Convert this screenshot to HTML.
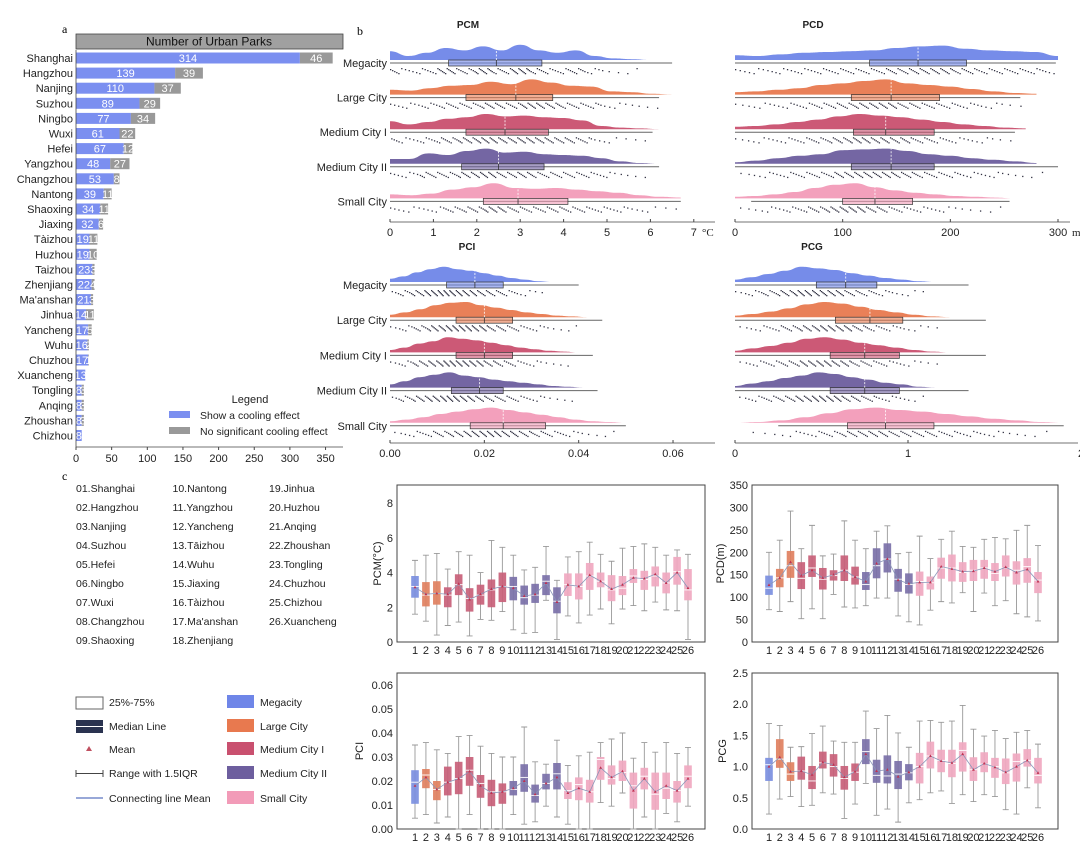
<!DOCTYPE html>
<html><head><meta charset="utf-8"><style>
body{margin:0;background:#fff;}
svg{font-family:"Liberation Sans",sans-serif;display:block;}
</style></head><body>
<svg id="fig" width="1080" height="864" viewBox="0 0 1080 864" xmlns="http://www.w3.org/2000/svg">
<g id="pa"></g>
<g id="pb"></g>
<g id="pc"></g>
</svg>
<script>
// ---------- Panel a data ----------
const cities = ["Shanghai","Hangzhou","Nanjing","Suzhou","Ningbo","Wuxi","Hefei","Yangzhou","Changzhou","Nantong","Shaoxing","Jiaxing","Tàizhou","Huzhou","Taizhou","Zhenjiang","Ma'anshan","Jinhua","Yancheng","Wuhu","Chuzhou","Xuancheng","Tongling","Anqing","Zhoushan","Chizhou"];
const coolVals = [314,139,110,89,77,61,67,48,53,39,34,32,19,19,23,22,21,14,17,16,17,13,8,8,8,8];
const noCoolVals = [46,39,37,29,34,22,12,27,8,11,11,6,11,10,3,4,3,11,5,2,1,0,3,3,3,0];
const aTicks = [0,50,100,150,200,250,300,350];

// ---------- Panel b data (relative density, box stats) ----------
const rowNames = ["Megacity","Large City","Medium City I","Medium City II","Small City"];
const pcmDens = [[0.55,0.25,0.45,0.75,0.6,0.85,0.6,0.95,0.6,0.45,0.6,0.25,0.1,0.05,0.0],
 [0.3,0.25,0.4,0.55,0.6,0.8,0.65,0.95,0.75,0.55,0.5,0.2,0.15,0.05,0.0],
 [0.5,0.3,0.45,0.65,0.75,0.95,0.8,0.85,0.75,0.7,0.55,0.2,0.1,0.05,0.0],
 [0.3,0.3,0.65,0.55,0.8,0.95,0.7,0.75,0.6,0.55,0.5,0.35,0.15,0.05,0.0],
 [0.25,0.2,0.3,0.55,0.7,0.95,0.65,0.6,0.65,0.55,0.45,0.35,0.2,0.1,0.05]];
const pcmStats = [[0,1.35,2.45,3.5,6.5],[0,1.75,2.9,3.75,6.2],[0,1.75,2.65,3.65,6.05],[0,1.65,2.5,3.55,6.2],[0,2.15,2.95,4.1,6.7]];
const pcmMax = [6.0,6.5,6.2,6.2,6.7];
const pcdDens = [[0.3,0.25,0.35,0.45,0.5,0.55,0.6,0.75,0.85,0.9,0.7,0.6,0.55,0.5,0.25],
 [0.15,0.2,0.3,0.4,0.6,0.7,0.85,0.95,0.7,0.6,0.5,0.35,0.2,0.1,0.05],
 [0.15,0.2,0.3,0.45,0.6,0.8,0.95,0.85,0.75,0.6,0.45,0.3,0.2,0.1,0.05],
 [0.1,0.2,0.35,0.5,0.6,0.85,0.9,0.95,0.8,0.6,0.5,0.35,0.25,0.15,0.05],
 [0.1,0.15,0.25,0.4,0.65,0.85,0.95,0.7,0.5,0.35,0.25,0.15,0.1,0.05,0.0]];
const pcdStats = [[0,125,170,215,298],[0,108,145,190,265],[0,110,140,185,260],[0,108,145,185,300],[15,100,130,165,255]];
const pcdMax = [300,280,270,280,260];
const pciDens = [[0.2,0.35,0.6,0.8,0.95,0.8,0.7,0.55,0.4,0.25,0.15,0.05,0.0,0.0,0.0],
 [0.15,0.3,0.5,0.75,0.9,0.95,0.75,0.6,0.45,0.3,0.2,0.1,0.05,0.0,0.0],
 [0.15,0.3,0.55,0.7,0.95,0.85,0.75,0.6,0.45,0.3,0.2,0.1,0.05,0.0,0.0],
 [0.2,0.4,0.65,0.8,0.95,0.75,0.65,0.5,0.4,0.3,0.2,0.1,0.05,0.0,0.0],
 [0.1,0.2,0.35,0.55,0.7,0.85,0.95,0.8,0.65,0.5,0.35,0.2,0.1,0.05,0.0]];
const pciStats = [[0,0.012,0.018,0.024,0.040],[0,0.014,0.020,0.026,0.045],[0,0.014,0.020,0.026,0.043],[0,0.013,0.019,0.024,0.044],[0,0.017,0.024,0.033,0.050]];
const pciMax = [0.040,0.045,0.043,0.044,0.050];
const pcgDens = [[0.15,0.3,0.5,0.7,0.95,0.85,0.75,0.55,0.4,0.25,0.15,0.05,0.0,0.0,0.0],
 [0.1,0.2,0.35,0.55,0.8,0.95,0.85,0.65,0.45,0.3,0.15,0.05,0.0,0.0,0.0],
 [0.1,0.25,0.4,0.6,0.85,0.95,0.8,0.6,0.45,0.3,0.15,0.05,0.0,0.0,0.0],
 [0.1,0.25,0.4,0.6,0.75,0.95,0.85,0.65,0.5,0.3,0.2,0.05,0.0,0.0,0.0],
 [0.0,0.05,0.15,0.35,0.6,0.85,0.95,0.8,0.7,0.55,0.4,0.25,0.15,0.05,0.0]];
const pcgStats = [[0,0.47,0.64,0.82,1.35],[0,0.58,0.78,0.97,1.45],[0,0.55,0.75,0.95,1.45],[0,0.55,0.75,0.95,1.35],[0.25,0.65,0.87,1.15,1.9]];
const pcgMax = [1.35,1.45,1.45,1.35,1.9];
const rowColors = ["#6f86e8","#e8794f","#c9506f","#6d5e9e","#f29bb8"];

// ---------- Panel c data ----------
const cityNo = ["1","2","3","4","5","6","7","8","9","10","11","12","13","14","15","16","17","18","19","20","21","22","23","24","25","26"];
const cityCls = [0,1,1,2,2,2,2,2,2,3,3,3,3,3,4,4,4,4,4,4,4,4,4,4,4,4];
const pcmQ1=[2.55,2.05,2.15,2.0,2.7,1.75,2.15,2.0,2.3,2.4,2.15,2.25,2.7,1.65,2.65,2.45,3.0,3.15,2.35,2.7,3.4,3.0,3.2,2.8,3.3,2.4];
const pcmMed=[3.2,2.7,2.8,2.7,3.3,2.5,2.7,3.0,3.2,3.2,2.55,2.7,3.5,2.35,3.3,3.2,3.8,3.5,3.0,3.1,3.8,3.6,3.8,3.4,4.05,3.0];
const pcmQ3=[3.8,3.45,3.5,3.15,3.9,3.1,3.3,3.6,4.0,3.75,3.25,3.35,3.85,3.15,3.95,3.95,4.55,4.0,3.85,3.8,4.2,4.1,4.35,4.0,4.9,4.2];
const pcmLo=[1.6,1.2,0.4,0.95,1.15,0.35,1.3,1.25,1.75,0.7,0.5,0.55,2.4,0.15,1.5,1.1,1.55,1.9,1.05,1.9,2.1,1.8,2.3,1.85,1.8,0.15];
const pcmHi=[4.7,5.0,5.1,4.2,5.2,5.0,4.0,5.85,5.45,5.0,4.15,4.3,5.5,3.55,4.9,5.2,5.75,5.05,4.65,5.4,5.5,5.65,5.45,5.0,5.3,5.05];
const pcmMean=[3.15,2.75,2.8,2.75,3.35,2.45,2.75,3.05,3.2,3.1,2.65,2.75,3.4,2.3,3.3,3.2,3.85,3.5,3.05,3.3,3.7,3.65,3.9,3.4,4.0,3.1];
const pcdQ1=[105,122,143,118,145,117,137,136,128,116,142,155,112,108,103,117,141,135,134,136,141,136,146,128,132,109];
const pcdMed=[120,143,170,142,165,140,148,160,145,128,170,185,140,128,135,132,165,165,155,160,165,153,165,160,168,138];
const pcdQ3=[148,163,203,178,193,165,160,193,168,156,209,220,163,153,157,146,188,195,178,183,183,176,193,180,187,156];
const pcdLo=[72,68,90,52,74,52,106,78,76,81,98,98,58,45,38,71,90,87,110,68,109,81,92,63,56,47];
const pcdHi=[200,227,292,208,260,192,196,270,227,208,247,259,197,200,236,186,229,247,213,211,229,233,230,249,260,215];
const pcdMean=[127,143,178,148,160,143,150,160,145,135,175,185,138,130,133,133,168,163,157,158,165,157,167,155,162,135];
const pciQ1=[0.0105,0.017,0.012,0.014,0.0145,0.018,0.013,0.0095,0.0105,0.014,0.0155,0.011,0.0165,0.0165,0.0125,0.012,0.011,0.0205,0.0185,0.020,0.0085,0.0165,0.008,0.0125,0.011,0.017];
const pciMed=[0.0195,0.0225,0.0165,0.0195,0.021,0.0245,0.019,0.0155,0.0155,0.0165,0.0215,0.014,0.019,0.023,0.016,0.0185,0.0155,0.029,0.021,0.0235,0.018,0.022,0.0145,0.017,0.016,0.022];
const pciQ3=[0.0245,0.025,0.020,0.026,0.028,0.030,0.0225,0.0205,0.019,0.020,0.027,0.0185,0.023,0.0275,0.0195,0.0215,0.0205,0.030,0.0265,0.0285,0.0235,0.0255,0.0235,0.0235,0.020,0.0265];
const pciLo=[0.0045,0.006,0.0025,0.005,0.0,0.006,0.0,0.0,0.0,0.006,0.002,0.003,0.0095,0.005,0.002,0.0,0.0,0.011,0.0095,0.015,0.0,0.005,0.0,0.0065,0.003,0.0095];
const pciHi=[0.035,0.036,0.033,0.0315,0.0385,0.039,0.0345,0.0315,0.030,0.030,0.0425,0.028,0.027,0.037,0.0265,0.0305,0.032,0.036,0.0375,0.040,0.0295,0.036,0.032,0.036,0.0315,0.034];
const pciMean=[0.018,0.0215,0.0165,0.0195,0.021,0.024,0.018,0.015,0.0155,0.017,0.020,0.0145,0.019,0.0215,0.015,0.017,0.0155,0.0255,0.0215,0.024,0.016,0.021,0.0155,0.018,0.016,0.021];
const pcgQ1=[0.77,0.98,0.77,0.79,0.64,0.97,0.84,0.63,0.77,1.04,0.74,0.73,0.64,0.78,0.73,0.97,0.91,0.83,0.92,0.77,0.91,0.82,0.72,0.76,1.0,0.73];
const pcgMed=[1.03,1.12,0.88,0.93,0.77,1.06,1.0,0.81,0.91,1.24,0.86,0.85,0.88,0.9,1.0,1.17,1.1,1.05,1.26,0.95,1.04,1.0,0.9,1.08,1.1,0.86];
const pcgQ3=[1.14,1.44,1.07,1.16,1.01,1.24,1.2,1.01,1.05,1.44,1.11,1.18,1.09,1.04,1.22,1.4,1.27,1.27,1.39,1.15,1.23,1.14,1.13,1.21,1.28,1.14];
const pcgLo=[0.24,0.48,0.52,0.36,0.38,0.58,0.56,0.17,0.4,0.73,0.22,0.32,0.11,0.42,0.47,0.58,0.61,0.41,0.55,0.44,0.55,0.52,0.31,0.24,0.66,0.34];
const pcgHi=[1.69,1.66,1.31,1.32,1.53,1.65,1.41,1.39,1.39,1.89,1.61,1.82,1.54,1.31,1.73,1.74,1.71,1.73,1.98,1.6,1.49,1.58,1.45,1.55,1.58,1.36];
const pcgMean=[1.0,1.15,0.92,0.93,0.87,1.07,1.03,0.83,0.92,1.2,0.93,0.95,0.84,0.91,1.0,1.17,1.09,1.06,1.2,0.95,1.05,0.99,0.91,1.0,1.1,0.9];
const cColors = ["#7b8fe0","#e08060","#c86078","#7a70a8","#f0a8c0"];

const NS="http://www.w3.org/2000/svg";
function mk(parent,tag,attrs,text){const e=document.createElementNS(NS,tag);for(const k in attrs)e.setAttribute(k,attrs[k]);if(text!==undefined)e.textContent=text;parent.appendChild(e);return e;}

// ================= Panel a =================
(function(){
const g=document.getElementById('pa');
const x0=76, k=0.713, y0=58, dy=15.1, bh=11;
const sx=v=>x0+v*k;
const lab=mk(g,'text',{x:62,y:33,'font-size':12,'font-family':'Liberation Serif'},'a');

const hdr=mk(g,'rect',{x:76,y:34,width:267,height:15,fill:'#a0a0a0',stroke:'#444','stroke-width':0.8});

const ht=mk(g,'text',{x:209,y:45.5,'font-size':12,'text-anchor':'middle',fill:'#111'},'Number of Urban Parks');

cities.forEach((c,i)=>{
 const y=y0+i*dy;
 const t=mk(g,'text',{x:73,y:y+4,'font-size':11,'text-anchor':'end',fill:'#222'},c);
 
 const r1=mk(g,'rect',{x:sx(0),y:y-bh/2,width:coolVals[i]*k,height:bh,fill:'#7b8ff0'});
 
 const r2=mk(g,'rect',{x:sx(coolVals[i]),y:y-bh/2,width:noCoolVals[i]*k,height:bh,fill:'#999'});
 
 const t1=mk(g,'text',{x:sx(coolVals[i]/2),y:y+4,'font-size':11,'text-anchor':'middle',fill:'#fff'},String(coolVals[i]));
 
 if(noCoolVals[i]>0){const t2=mk(g,'text',{x:sx(coolVals[i]+noCoolVals[i]/2),y:y+4,'font-size':11,'text-anchor':'middle',fill:'#fff'},String(noCoolVals[i]));
 }
});
const ax=mk(g,'line',{x1:76,y1:447,x2:343,y2:447,stroke:'#444','stroke-width':0.8});

mk(g,'line',{x1:76,y1:50,x2:76,y2:447,stroke:'#444','stroke-width':0.8});
aTicks.forEach(v=>{mk(g,'line',{x1:sx(v),y1:447,x2:sx(v),y2:450,stroke:'#444'});
 const t=mk(g,'text',{x:sx(v),y:462,'font-size':11,'text-anchor':'middle',fill:'#222'},String(v));
 });
const lt=mk(g,'text',{x:250,y:403,'font-size':11,'text-anchor':'middle',fill:'#222'},'Legend');

[['#7b8ff0','Show a cooling effect',415],['#999','No significant cooling effect',431]].forEach(([c,s,y])=>{
 const r=mk(g,'rect',{x:169,y:y-4,width:21,height:7,fill:c});
 
 const t=mk(g,'text',{x:200,y:y+4,'font-size':10.5,fill:'#222'},s);
 });
})();

// ================= Panel b =================
(function(){
const g=document.getElementById('pb');
const lab=mk(g,'text',{x:357,y:35,'font-size':12,'font-family':'Liberation Serif'},'b');

function ridge(cfg){
 const {title,tx,ty,x0,k,ax,y0,dy,dens,stats,maxv,ticks,fmt,unit,labels,xend}=cfg;
 const sx=v=>x0+v*k;
 const tt=mk(g,'text',{x:tx,y:ty,'font-size':10,'font-weight':'bold','text-anchor':'middle',fill:'#222'},title);
 
 for(let r=0;r<5;r++){
  const y=y0+r*dy, base=y-3, d=dens[r], n=d.length, mv=maxv[r];
  let p='M'+sx(0)+','+base;
  const pts=d.map((v,i)=>[sx(i*mv/(n-1)),base-v*16]);
  p+=' L'+pts[0][0]+','+pts[0][1];
  for(let i=1;i<n;i++){const a=pts[i-1],b=pts[i],mx=(a[0]+b[0])/2;p+=` C${mx},${a[1]} ${mx},${b[1]} ${b[0]},${b[1]}`;}
  p+=' L'+sx(mv)+','+base+' Z';
  const area=mk(g,'path',{d:p,fill:rowColors[r],opacity:0.95});
  
  const s=stats[r];
  const wl=mk(g,'line',{x1:sx(s[0]),y1:y,x2:sx(s[4]),y2:y,stroke:'#666','stroke-width':1});
  
  const bx=mk(g,'rect',{x:sx(s[1]),y:y-3,width:sx(s[3])-sx(s[1]),height:6,fill:rowColors[r],'fill-opacity':0.6,stroke:'#333','stroke-width':0.7});
  
  mk(g,'line',{x1:sx(s[2]),y1:y-3,x2:sx(s[2]),y2:y+3,stroke:'#333','stroke-width':0.8});
  mk(g,'line',{x1:sx(s[2]),y1:y-3,x2:sx(s[2]),y2:y-18,stroke:'#fff','stroke-width':0.8,'stroke-dasharray':'2,1.5'});
  let c=0;
  d.forEach((v,i)=>{const cnt=Math.round(v*14)+(v>0?1:0);const w=mv/(n-1);
   for(let j=0;j<cnt;j++){const xv=(i-0.5)*w+((j+0.5)/cnt)*w; if(xv<0||xv>s[4])continue;
    c++;const dot=mk(g,'rect',{x:sx(xv),y:y+5+((c*7)%6),width:1.3,height:1.3,fill:'#334'});
    }});
  if(labels){const t=mk(g,'text',{x:x0-3,y:y+4,'font-size':11,'text-anchor':'end',fill:'#222'},rowNames[r]);
   }
 }
 const a=mk(g,'line',{x1:x0,y1:ax,x2:xend,y2:ax,stroke:'#444','stroke-width':0.8});
 
 ticks.forEach(v=>{mk(g,'line',{x1:sx(v),y1:ax,x2:sx(v),y2:ax-3,stroke:'#444'});
  const t=mk(g,'text',{x:sx(v),y:ax+14,'font-size':11,'text-anchor':'middle',fill:'#222'},fmt(v));
  });
 if(unit){const u=mk(g,'text',{x:unit[0],y:ax+14,'font-size':11,'font-family':'Liberation Serif',fill:'#222'},unit[1]);
  }
}
ridge({title:'PCM',tx:468,ty:28,x0:390,k:43.4,ax:222,y0:63,dy:34.6,dens:pcmDens,stats:pcmStats,maxv:pcmMax,ticks:[0,1,2,3,4,5,6,7],fmt:v=>String(v),unit:[702,'°C'],labels:true,xend:715});
ridge({title:'PCD',tx:813,ty:28,x0:735,k:1.0767,ax:222,y0:63,dy:34.6,dens:pcdDens,stats:pcdStats,maxv:pcdMax,ticks:[0,100,200,300],fmt:v=>String(v),unit:[1072,'m'],labels:false,xend:1070});
ridge({title:'PCI',tx:467,ty:250,x0:390,k:4717,ax:443,y0:285,dy:35.2,dens:pciDens,stats:pciStats,maxv:pciMax,ticks:[0,0.02,0.04,0.06],fmt:v=>v.toFixed(2),unit:null,labels:true,xend:715});
ridge({title:'PCG',tx:812,ty:250,x0:735,k:173,ax:443,y0:285,dy:35.2,dens:pcgDens,stats:pcgStats,maxv:pcgMax,ticks:[0,1,2],fmt:v=>String(v),unit:null,labels:false,xend:1078});
})();

// ================= Panel c =================
(function(){
const g=document.getElementById('pc');
const lab=mk(g,'text',{x:62,y:480,'font-size':12,'font-family':'Liberation Serif'},'c');

const full=["Shanghai","Hangzhou","Nanjing","Suzhou","Hefei","Ningbo","Wuxi","Changzhou","Shaoxing","Nantong","Yangzhou","Yancheng","Tāizhou","Wuhu","Jiaxing","Tàizhou","Ma'anshan","Zhenjiang","Jinhua","Huzhou","Anqing","Zhoushan","Tongling","Chuzhou","Chizhou","Xuancheng"];
full.forEach((c,i)=>{const col=i<9?0:(i<18?1:2);const row=i-[0,9,18][col];
 const t=mk(g,'text',{x:76+col*96.5,y:492+row*19,'font-size':10.5,fill:'#222'},String(i+1).padStart(2,'0')+'.'+c);
 });
const ly=[702,726,749,773,798];
let e;
e=mk(g,'rect',{x:76,y:697,width:27,height:12,fill:'#fff',stroke:'#666'});
e=mk(g,'rect',{x:76,y:720,width:27,height:13,fill:'#2a3350'});
mk(g,'line',{x1:76,y1:726.5,x2:103,y2:726.5,stroke:'#fff','stroke-width':1});
e=mk(g,'path',{d:'M89,746 L92,751 L86,751 Z',fill:'#c05060'});
e=mk(g,'path',{d:'M76,770 L76,777 M76,773.5 L103,773.5 M103,770 L103,777',stroke:'#444',fill:'none'});
e=mk(g,'line',{x1:76,y1:798,x2:103,y2:798,stroke:'#3050b0','stroke-width':1});
['25%-75%','Median Line','Mean','Range with 1.5IQR','Connecting line Mean'].forEach((s,i)=>{
 const t=mk(g,'text',{x:109,y:ly[i]+4,'font-size':10.5,fill:'#222'},s);});
['Megacity','Large City','Medium City I','Medium City II','Small City'].forEach((s,i)=>{
 const r=mk(g,'rect',{x:227,y:ly[i]-7,width:27,height:13,fill:rowColors[i]});
 const t=mk(g,'text',{x:260,y:ly[i]+4,'font-size':10.5,fill:'#222'},s);});

function boxPanel(cfg){
 const {L,T,R,B,x1,x26,ymax,ticks,fmt,title,q1,med,q3,lo,hi,mean}=cfg;
 const sy=v=>B-(v/ymax)*(B-T);
 const sx=i=>x1+i*(x26-x1)/25;
 const f=mk(g,'rect',{x:L,y:T,width:R-L,height:B-T,fill:'#fff',stroke:'#444','stroke-width':1});
 
 ticks.forEach(v=>{const t=mk(g,'text',{x:L-4,y:sy(v)+4,'font-size':11,'text-anchor':'end',fill:'#222'},fmt(v));
  });
 const yt=mk(g,'text',{x:0,y:0,'font-size':11,'text-anchor':'middle',fill:'#222',transform:`translate(${L-(cfg.tOff||22)},${(T+B)/2}) rotate(-90)`},title);
 
 cityNo.forEach((c,i)=>{const x=sx(i),col=cColors[cityCls[i]];
  const w=mk(g,'path',{d:`M${x},${sy(lo[i])} L${x},${sy(hi[i])} M${x-3},${sy(lo[i])} L${x+3},${sy(lo[i])} M${x-3},${sy(hi[i])} L${x+3},${sy(hi[i])}`,stroke:'#999','stroke-width':0.9,fill:'none'});
  
  const b=mk(g,'rect',{x:x-3.8,y:sy(q3[i]),width:7.6,height:sy(q1[i])-sy(q3[i]),fill:col,opacity:0.92});
  
  mk(g,'line',{x1:x-3.8,y1:sy(med[i]),x2:x+3.8,y2:sy(med[i]),stroke:'#fff','stroke-width':0.9});
  const t=mk(g,'text',{x:x,y:B+12,'font-size':11,'text-anchor':'middle',fill:'#222'},c);
  });
 const ml=mk(g,'polyline',{points:mean.map((v,i)=>sx(i)+','+sy(v)).join(' '),fill:'none',stroke:'#8a96b8','stroke-width':0.8});
 
 mean.forEach((v,i)=>{const m=mk(g,'path',{d:`M${sx(i)},${sy(v)-1.6} L${sx(i)+1.4},${sy(v)+1} L${sx(i)-1.4},${sy(v)+1} Z`,fill:'#c03050'});
  });
}
boxPanel({L:397,T:485,R:705,B:642,x1:415,x26:688,ymax:9.04,ticks:[0,2,4,6,8],fmt:v=>String(v),title:'PCM(°C)',q1:pcmQ1,med:pcmMed,q3:pcmQ3,lo:pcmLo,hi:pcmHi,mean:pcmMean,tOff:16});
boxPanel({L:752,T:485,R:1058,B:642,x1:769,x26:1038,ymax:350,ticks:[0,50,100,150,200,250,300,350],fmt:v=>String(v),title:'PCD(m)',q1:pcdQ1,med:pcdMed,q3:pcdQ3,lo:pcdLo,hi:pcdHi,mean:pcdMean,tOff:28});
boxPanel({L:397,T:673,R:705,B:829,x1:415,x26:688,ymax:0.065,ticks:[0,0.01,0.02,0.03,0.04,0.05,0.06],fmt:v=>v.toFixed(2),title:'PCI',q1:pciQ1,med:pciMed,q3:pciQ3,lo:pciLo,hi:pciHi,mean:pciMean,tOff:34});
boxPanel({L:752,T:673,R:1058,B:829,x1:769,x26:1038,ymax:2.5,ticks:[0,0.5,1,1.5,2,2.5],fmt:v=>v.toFixed(1),title:'PCG',q1:pcgQ1,med:pcgMed,q3:pcgQ3,lo:pcgLo,hi:pcgHi,mean:pcgMean,tOff:26});
})();
</script>
</body></html>
